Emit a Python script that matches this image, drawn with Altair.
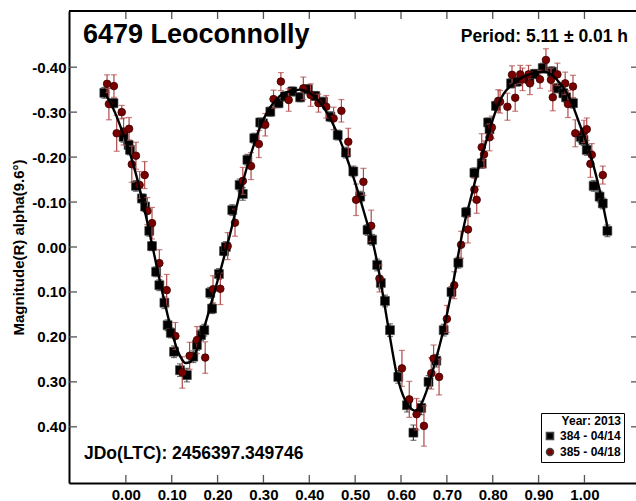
import altair as alt
import pandas as pd

# ---------------- text ----------------
title_text = "6479 Leoconnolly"
period_text = "Period: 5.11 ± 0.01 h"
jd_text = "JDo(LTC): 2456397.349746"
y_title = "Magnitude(R) alpha(9.6°)"
legend_title = "Year: 2013"
series_names = ["384 - 04/14", "385 - 04/18"]

# ---------------- ticks ----------------
x_ticks = [0.0, 0.1, 0.2, 0.3, 0.4, 0.5, 0.6, 0.7, 0.8, 0.9, 1.0]
y_ticks = [-0.4, -0.3, -0.2, -0.1, 0.0, 0.1, 0.2, 0.3, 0.4]

# ---------------- session 384 (black squares) ----------------
b_phase = [-0.047, -0.027, -0.005, 0.006, 0.009, 0.022, 0.035, 0.042, 0.051, 0.057,
           0.066, 0.073, 0.084, 0.091, 0.098, 0.105, 0.118, 0.133, 0.147, 0.155,
           0.164, 0.171, 0.184, 0.188, 0.203, 0.214, 0.218, 0.232, 0.248, 0.255,
           0.265, 0.280, 0.293, 0.299, 0.315, 0.333, 0.347, 0.363, 0.380, 0.397,
           0.413, 0.430, 0.446, 0.462, 0.480, 0.496, 0.511, 0.527, 0.537, 0.548,
           0.556, 0.565, 0.576, 0.594, 0.613, 0.627, 0.644, 0.660, 0.677, 0.693,
           0.710, 0.725, 0.742, 0.760, 0.776, 0.790, 0.793, 0.807, 0.840, 0.853,
           0.880, 0.892, 0.909, 0.929, 0.940, 0.954, 0.960, 0.975, 0.992, 0.998,
           1.005, 1.020, 1.033, 1.040, 1.050]
b_mag = [-0.343, -0.320, -0.245, -0.227, -0.216, -0.136, -0.108, -0.090, -0.036, -0.002,
         0.055, 0.085, 0.124, 0.174, 0.191, 0.233, 0.274, 0.285, 0.244, 0.218,
         0.196, 0.185, 0.102, 0.137, 0.060, 0.009, 0.000, -0.082, -0.138, -0.118,
         -0.194, -0.242, -0.277, -0.275, -0.301, -0.320, -0.335, -0.346, -0.333, -0.351,
         -0.336, -0.323, -0.290, -0.249, -0.210, -0.168, -0.112, -0.038, -0.016, 0.040,
         0.080, 0.120, 0.185, 0.289, 0.352, 0.413, 0.358, 0.300, 0.253, 0.185,
         0.100, 0.035, -0.077, -0.165, -0.186, -0.277, -0.262, -0.314, -0.364, -0.368,
         -0.373, -0.385, -0.398, -0.390, -0.353, -0.342, -0.333, -0.320, -0.245, -0.238,
         -0.216, -0.136, -0.112, -0.097, -0.036]
b_err = [0.012, 0.010, 0.012, 0.010, 0.011, 0.012, 0.010, 0.011, 0.012, 0.010,
         0.011, 0.012, 0.013, 0.012, 0.011, 0.013, 0.014, 0.015, 0.013, 0.012,
         0.012, 0.013, 0.012, 0.011, 0.012, 0.010, 0.012, 0.012, 0.013, 0.014,
         0.012, 0.011, 0.010, 0.010, 0.010, 0.010, 0.010, 0.010, 0.010, 0.010,
         0.010, 0.010, 0.011, 0.011, 0.012, 0.012, 0.012, 0.012, 0.012, 0.013,
         0.013, 0.013, 0.014, 0.014, 0.015, 0.017, 0.015, 0.014, 0.014, 0.013,
         0.012, 0.012, 0.011, 0.011, 0.011, 0.010, 0.010, 0.010, 0.010, 0.010,
         0.010, 0.010, 0.011, 0.011, 0.010, 0.010, 0.011, 0.011, 0.012, 0.012,
         0.012, 0.012, 0.012, 0.012, 0.013]

# ---------------- session 385 (dark red circles) ----------------
r_phase = [-0.041, -0.037, -0.026, -0.020, -0.009, -0.005, 0.007, 0.013, 0.022, 0.030,
           0.041, 0.047, 0.057, 0.073, 0.089, 0.108, 0.123, 0.139, 0.155, 0.173,
           0.190, 0.206, 0.222, 0.238, 0.255, 0.273, 0.290, 0.304, 0.322, 0.338,
           0.355, 0.387, 0.403, 0.420, 0.437, 0.453, 0.470, 0.485, 0.502, 0.518,
           0.535, 0.553, 0.602, 0.618, 0.634, 0.650, 0.666, 0.671, 0.683, 0.700,
           0.716, 0.731, 0.746, 0.760, 0.765, 0.776, 0.781, 0.793, 0.798, 0.812,
           0.816, 0.832, 0.842, 0.849, 0.860, 0.865, 0.878, 0.881, 0.903, 0.916,
           0.927, 0.931, 0.941, 0.958, 0.964, 0.975, 0.980, 0.999, 1.005, 1.013,
           1.016, 1.040]
r_mag = [-0.363, -0.318, -0.358, -0.253, -0.300, -0.257, -0.263, -0.184, -0.203, -0.138,
         -0.160, -0.080, -0.053, 0.036, 0.096, 0.198, 0.279, 0.242, 0.207, 0.246,
         0.094, 0.093, -0.002, -0.054, -0.147, -0.180, -0.229, -0.272, -0.329, -0.368,
         -0.327, -0.353, -0.338, -0.320, -0.312, -0.286, -0.303, -0.234, -0.105, -0.145,
         -0.047, 0.070, 0.270, 0.339, 0.372, 0.398, 0.281, 0.248, 0.289, 0.160,
         0.085, -0.005, -0.039, -0.128, -0.105, -0.222, -0.206, -0.244, -0.266, -0.325,
         -0.323, -0.312, -0.383, -0.332, -0.384, -0.373, -0.384, -0.364, -0.373, -0.416,
         -0.372, -0.333, -0.384, -0.364, -0.318, -0.357, -0.253, -0.257, -0.262, -0.185,
         -0.205, -0.160]
r_err = [0.020, 0.035, 0.025, 0.040, 0.015, 0.030, 0.025, 0.040, 0.030, 0.030,
         0.030, 0.030, 0.035, 0.030, 0.035, 0.030, 0.035, 0.030, 0.030, 0.035,
         0.030, 0.035, 0.030, 0.030, 0.030, 0.030, 0.030, 0.025, 0.020, 0.020,
         0.025, 0.025, 0.025, 0.020, 0.025, 0.025, 0.025, 0.030, 0.035, 0.030,
         0.035, 0.030, 0.040, 0.040, 0.035, 0.045, 0.035, 0.030, 0.040, 0.030,
         0.030, 0.030, 0.030, 0.025, 0.030, 0.030, 0.030, 0.030, 0.025, 0.025,
         0.025, 0.030, 0.020, 0.030, 0.020, 0.025, 0.020, 0.025, 0.020, 0.025,
         0.025, 0.030, 0.025, 0.025, 0.030, 0.025, 0.030, 0.025, 0.025, 0.030,
         0.025, 0.020]

# ---------------- fitted curve ----------------
fit_phase = [-0.05, -0.04, -0.03, -0.02, -0.01, 0.00, 0.01, 0.02, 0.03, 0.04,
             0.05, 0.06, 0.07, 0.08, 0.09, 0.10, 0.11, 0.12, 0.13, 0.14,
             0.15, 0.16, 0.17, 0.18, 0.19, 0.20, 0.21, 0.22, 0.23, 0.24,
             0.25, 0.26, 0.27, 0.28, 0.29, 0.30, 0.31, 0.32, 0.33, 0.34,
             0.35, 0.36, 0.37, 0.38, 0.39, 0.40, 0.41, 0.42, 0.43, 0.44,
             0.45, 0.46, 0.47, 0.48, 0.49, 0.50, 0.51, 0.52, 0.53, 0.54,
             0.55, 0.56, 0.57, 0.58, 0.59, 0.60, 0.61, 0.62, 0.63, 0.64,
             0.65, 0.66, 0.67, 0.68, 0.69, 0.70, 0.71, 0.72, 0.73, 0.74,
             0.75, 0.76, 0.77, 0.78, 0.79, 0.80, 0.81, 0.82, 0.83, 0.84,
             0.85, 0.86, 0.87, 0.88, 0.89, 0.90, 0.91, 0.92, 0.93, 0.94,
             0.95, 0.96, 0.97, 0.98, 0.99, 1.00, 1.01, 1.02, 1.03, 1.04, 1.05]
fit_mag = [-0.345, -0.332, -0.313, -0.290, -0.263, -0.236, -0.205, -0.170, -0.130, -0.086,
           -0.040, 0.008, 0.056, 0.103, 0.147, 0.188, 0.222, 0.246, 0.258, 0.256,
           0.240, 0.214, 0.182, 0.147, 0.111, 0.075, 0.038, 0.000, -0.040, -0.084,
           -0.125, -0.163, -0.198, -0.230, -0.260, -0.284, -0.303, -0.318, -0.330, -0.339,
           -0.344, -0.347, -0.349, -0.350, -0.348, -0.343, -0.335, -0.325, -0.312, -0.296,
           -0.277, -0.255, -0.230, -0.203, -0.174, -0.143, -0.110, -0.075, -0.040, -0.004,
           0.045, 0.103, 0.165, 0.225, 0.280, 0.318, 0.343, 0.358, 0.364, 0.357,
           0.336, 0.307, 0.272, 0.235, 0.195, 0.150, 0.100, 0.045, -0.012, -0.060,
           -0.100, -0.140, -0.180, -0.215, -0.250, -0.283, -0.312, -0.334, -0.349, -0.359,
           -0.367, -0.374, -0.380, -0.384, -0.387, -0.389, -0.390, -0.388, -0.382, -0.372,
           -0.360, -0.345, -0.326, -0.300, -0.272, -0.245, -0.215, -0.180, -0.140, -0.095, -0.045]

# ---------------- tables ----------------
def session_table(phase, mag, err, name):
    return pd.DataFrame({
        "phase": phase,
        "mag": mag,
        "lo": [m - e for m, e in zip(mag, err)],
        "hi": [m + e for m, e in zip(mag, err)],
        "series": name,
    })

df_b = session_table(b_phase, b_mag, b_err, series_names[0])
df_r = session_table(r_phase, r_mag, r_err, series_names[1])
df_fit = pd.DataFrame({"phase": fit_phase, "mag": fit_mag})
df_xt = pd.DataFrame({"phase": x_ticks})
df_yt = pd.DataFrame({"mag": y_ticks})
one = pd.DataFrame({"k": [0]})

W, H = 567, 472
FONT = "Liberation Sans"

xscale = alt.Scale(domain=[-0.124, 1.1124], nice=False, zero=False)
yscale = alt.Scale(domain=[-0.525, 0.525], reverse=True, nice=False, zero=False)

xaxis = alt.Axis(values=x_ticks, format=".2f", title=None, grid=False, ticks=False,
                 domain=True, domainColor="black", domainWidth=2,
                 labelFont=FONT, labelFontSize=15, labelFontWeight="bold",
                 labelColor="black", labelPadding=4)
yaxis = alt.Axis(values=y_ticks, title=y_title, grid=False, ticks=False,
                 labelExpr="(datum.value < 0 ? '-' : '') + format(abs(datum.value), '.2f')",
                 domain=True, domainColor="black", domainWidth=2,
                 labelFont=FONT, labelFontSize=15, labelFontWeight="bold",
                 labelColor="black", labelPadding=3,
                 titleFont=FONT, titleFontSize=15, titleFontWeight="bold",
                 titleColor="black", titleX=-51, titleY=236,
                 titleAlign="center", titleBaseline="middle", titleAngle=270)


def X(field="phase"):
    return alt.X(f"{field}:Q", scale=xscale, axis=xaxis)


def Y(field="mag"):
    return alt.Y(f"{field}:Q", scale=yscale, axis=yaxis)


legend = alt.Legend(orient="none", legendX=472, legendY=402, title=legend_title,
                    titleAnchor="end", titleFont=FONT, titleFontSize=12,
                    titleFontWeight="bold", titleColor="black", titlePadding=2,
                    labelFont=FONT, labelFontSize=12, labelFontWeight="bold",
                    labelColor="black", strokeColor="black", fillColor="white",
                    padding=3, symbolSize=50, rowPadding=2, cornerRadius=0)
color_scale = alt.Scale(domain=series_names, range=["#000000", "#7a0000"])
shape_scale = alt.Scale(domain=series_names, range=["square", "circle"])
color = alt.Color("series:N", scale=color_scale, legend=legend)
shape = alt.Shape("series:N", scale=shape_scale, legend=legend)


def err_layers(df, col):
    bar = alt.Chart(df).mark_rule(color=col, strokeWidth=1.2).encode(
        x=X(), y=Y("lo"), y2="hi")
    cap_lo = alt.Chart(df).mark_tick(color=col, orient="horizontal", size=6,
                                     thickness=1.2).encode(x=X(), y=Y("lo"))
    cap_hi = alt.Chart(df).mark_tick(color=col, orient="horizontal", size=6,
                                     thickness=1.2).encode(x=X(), y=Y("hi"))
    return [bar, cap_lo, cap_hi]


b_pts = alt.Chart(df_b).mark_point(filled=True, size=80, opacity=1,
                                   stroke="#444444", strokeWidth=0.6).encode(
    x=X(), y=Y(), color=color, shape=shape)
r_pts = alt.Chart(df_r).mark_point(filled=True, size=58, opacity=1,
                                   stroke="#3a0000", strokeWidth=0.8).encode(
    x=X(), y=Y(), color=color, shape=shape)
fit = alt.Chart(df_fit).mark_line(color="black", strokeWidth=2.4,
                                  interpolate="monotone").encode(x=X(), y=Y())

# inward ticks on all sides and top frame line
tick_col = "#555555"
xt_bottom = alt.Chart(df_xt).mark_rule(color=tick_col, strokeWidth=1.3).encode(
    x=X(), y=alt.value(H), y2=alt.value(H - 8))
xt_top = alt.Chart(df_xt).mark_rule(color=tick_col, strokeWidth=1.3).encode(
    x=X(), y=alt.value(0), y2=alt.value(8))
yt_left = alt.Chart(df_yt).mark_rule(color=tick_col, strokeWidth=1.3).encode(
    y=Y(), x=alt.value(0), x2=alt.value(8))
yt_right = alt.Chart(df_yt).mark_rule(color=tick_col, strokeWidth=1.3).encode(
    y=Y(), x=alt.value(W - 5), x2=alt.value(W))
top_frame = alt.Chart(one).mark_rule(color="black", strokeWidth=2).encode(
    x=alt.value(0), x2=alt.value(W), y=alt.value(0))

legend_shadow = alt.Chart(one).mark_rect(color="black").encode(
    x=alt.value(475), x2=alt.value(553), y=alt.value(405), y2=alt.value(451))

t_title = alt.Chart(pd.DataFrame({"t": [title_text]})).mark_text(
    font=FONT, fontSize=27, fontWeight="bold", color="black", align="left",
    baseline="alphabetic").encode(x=alt.value(14), y=alt.value(32), text="t:N")
t_period = alt.Chart(pd.DataFrame({"t": [period_text]})).mark_text(
    font=FONT, fontSize=17.5, fontWeight="bold", color="black", align="right",
    baseline="alphabetic").encode(x=alt.value(559), y=alt.value(31), text="t:N")
t_jd = alt.Chart(pd.DataFrame({"t": [jd_text]})).mark_text(
    font=FONT, fontSize=17.5, fontWeight="bold", color="black", align="left",
    baseline="alphabetic").encode(x=alt.value(15), y=alt.value(448), text="t:N")

layers = (err_layers(df_b, "#3c3c3c") + [b_pts] + err_layers(df_r, "#b04848")
          + [r_pts, fit, xt_bottom, xt_top, yt_left, yt_right, top_frame,
             legend_shadow, t_title, t_period, t_jd])

chart = alt.layer(*layers).properties(
    width=W, height=H,
    autosize=alt.AutoSizeParams(type="none"),
    padding={"left": 69, "top": 11, "right": 0, "bottom": 18},
).configure_view(stroke=None).configure(background="white")

chart.save("out.html", embed_options={"renderer": "svg", "actions": False})
